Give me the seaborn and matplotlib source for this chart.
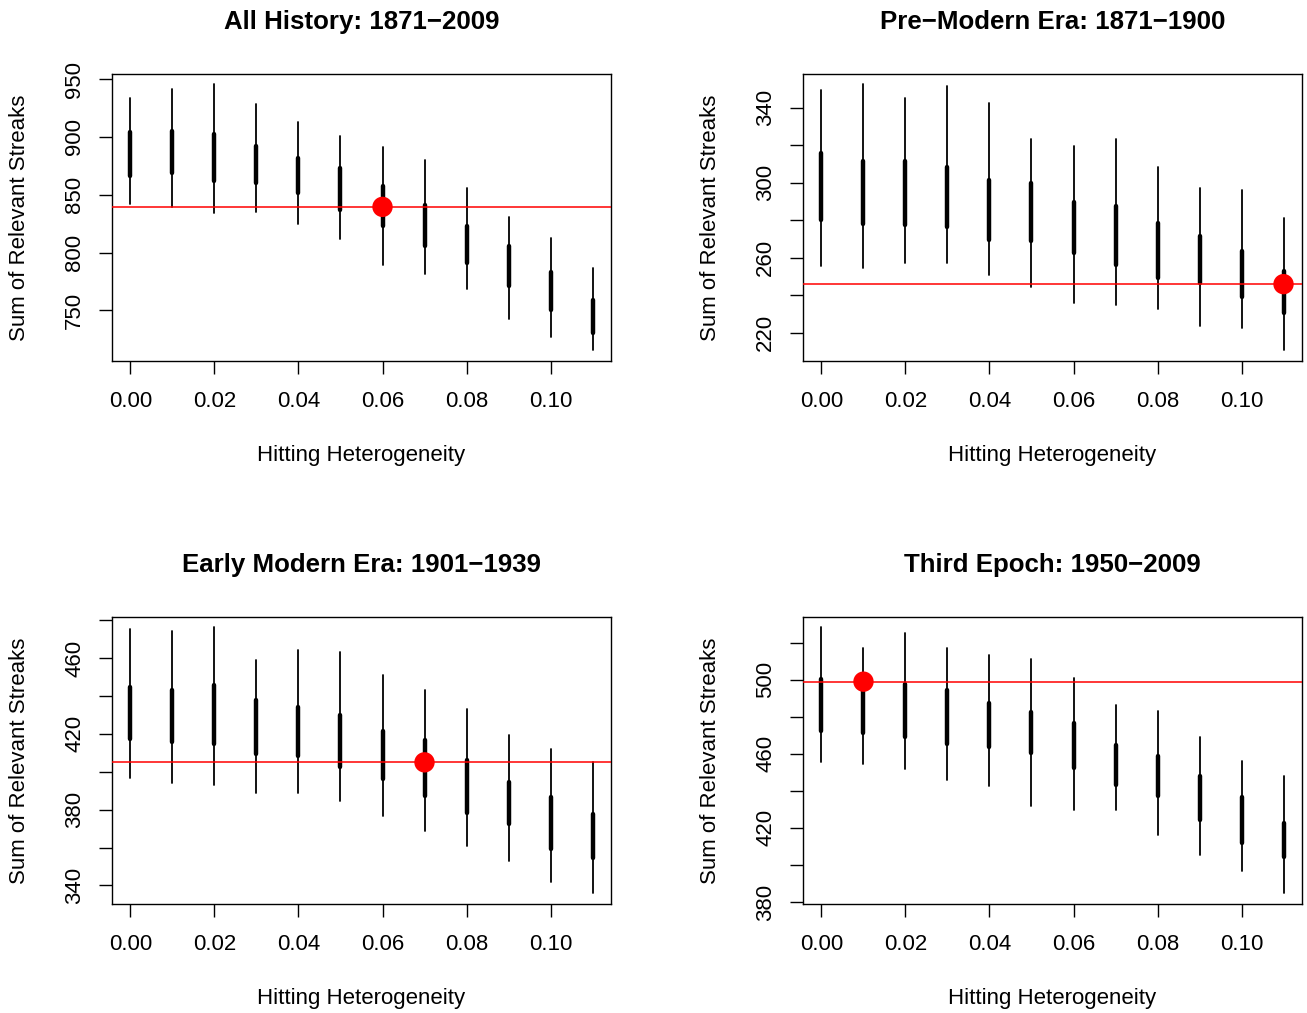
import numpy as np
import pandas as pd
import matplotlib
matplotlib.use("Agg")
import matplotlib.pyplot as plt
import seaborn as sns

# ---------------- data ----------------
heterogeneity = [0.00, 0.01, 0.02, 0.03, 0.04, 0.05, 0.06, 0.07, 0.08, 0.09, 0.10, 0.11]
x_ticks = [0.00, 0.02, 0.04, 0.06, 0.08, 0.10]
x_tick_labels = ["0.00", "0.02", "0.04", "0.06", "0.08", "0.10"]

titles = ["All History: 1871\u22122009", "Pre\u2212Modern Era: 1871\u22121900",
          "Early Modern Era: 1901\u22121939", "Third Epoch: 1950\u22122009"]

# panel 1: All History
p1_lo = [841.8, 839.8, 834.6, 834.9, 824.8, 811.9, 789.7, 781.7, 768.4, 742.8, 726.7, 715.5]
p1_q1 = [866.6, 868.6, 862.0, 859.9, 851.3, 837.2, 822.8, 805.8, 790.9, 770.7, 750.0, 730.5]
p1_q3 = [904.5, 905.4, 902.5, 892.2, 882.1, 873.5, 857.9, 841.2, 823.1, 806.1, 783.1, 759.2]
p1_hi = [933.3, 941.4, 945.4, 928.1, 912.6, 900.5, 891.6, 879.8, 855.6, 830.9, 812.5, 786.3]
p1_obs = 839.5
p1_best = 0.06
p1_yticks = [750, 800, 850, 900, 950]
p1_ylabels = ["750", "800", "850", "900", "950"]

# panel 2: Pre-Modern Era
p2_lo = [255.6, 254.7, 256.9, 256.9, 250.7, 244.6, 235.6, 234.7, 232.6, 223.7, 222.7, 210.6]
p2_q1 = [279.9, 278.0, 277.4, 276.4, 269.3, 268.9, 262.5, 256.2, 249.3, 246.4, 239.0, 230.5]
p2_q3 = [315.7, 311.8, 311.6, 308.5, 301.5, 299.6, 289.7, 287.5, 278.5, 271.6, 263.4, 252.8]
p2_hi = [349.2, 352.4, 345.3, 351.3, 342.3, 323.3, 319.3, 323.2, 308.1, 297.3, 296.2, 281.0]
p2_obs = 245.9
p2_best = 0.11
p2_yticks = [220, 240, 260, 280, 300, 320, 340]
p2_ylabels = ["220", "", "260", "", "300", "", "340"]

# panel 3: Early Modern Era
p3_lo = [396.8, 393.9, 392.9, 388.7, 388.8, 384.6, 376.7, 368.8, 360.7, 352.7, 341.8, 335.8]
p3_q1 = [417.5, 415.6, 414.5, 409.4, 408.5, 402.4, 396.2, 387.3, 378.3, 372.5, 359.3, 354.6]
p3_q3 = [444.7, 443.0, 445.8, 437.7, 434.0, 429.8, 421.5, 417.0, 406.1, 394.8, 386.7, 377.6]
p3_hi = [475.3, 474.2, 476.3, 459.3, 464.2, 463.2, 451.2, 443.3, 433.3, 419.2, 412.2, 405.0]
p3_obs = 405.0
p3_best = 0.07
p3_yticks = [340, 360, 380, 400, 420, 440, 460, 480]
p3_ylabels = ["340", "", "380", "", "420", "", "460", ""]

# panel 4: Third Epoch
p4_lo = [455.7, 454.6, 451.6, 445.6, 442.8, 431.7, 429.5, 429.5, 416.4, 405.6, 396.5, 384.7]
p4_q1 = [472.4, 471.1, 469.3, 465.2, 463.4, 460.2, 452.3, 443.3, 437.2, 424.3, 412.1, 404.2]
p4_q3 = [500.4, 500.0, 497.5, 494.4, 487.6, 482.4, 476.5, 464.5, 458.6, 447.8, 436.5, 422.7]
p4_hi = [528.2, 517.0, 524.9, 517.0, 513.1, 510.9, 501.1, 486.2, 483.0, 469.2, 456.1, 448.0]
p4_obs = 498.9
p4_best = 0.01
p4_yticks = [380, 400, 420, 440, 460, 480, 500, 520]
p4_ylabels = ["380", "", "420", "", "460", "", "500", ""]

panels = [
    (p1_lo, p1_q1, p1_q3, p1_hi, p1_obs, p1_best, p1_yticks, p1_ylabels),
    (p2_lo, p2_q1, p2_q3, p2_hi, p2_obs, p2_best, p2_yticks, p2_ylabels),
    (p3_lo, p3_q1, p3_q3, p3_hi, p3_obs, p3_best, p3_yticks, p3_ylabels),
    (p4_lo, p4_q1, p4_q3, p4_hi, p4_obs, p4_best, p4_yticks, p4_ylabels),
]

# ---------------- style ----------------
sns.set_style("white")
plt.rcParams["font.family"] = ["Liberation Sans", "DejaVu Sans"]
plt.rcParams["axes.edgecolor"] = "black"
plt.rcParams["axes.linewidth"] = 1.0
plt.rcParams["text.color"] = "black"
plt.rcParams["axes.labelcolor"] = "black"
plt.rcParams["axes.titlecolor"] = "black"
plt.rcParams["xtick.color"] = "black"
plt.rcParams["ytick.color"] = "black"
plt.rcParams["xtick.labelcolor"] = "black"
plt.rcParams["ytick.labelcolor"] = "black"

W, H = 1307, 1013
fig = plt.figure(figsize=(W / 100, H / 100), dpi=100)

ax_w = 499 / W
ax_h = 287.3 / H
lefts = [112 / W, 803 / W, 112 / W, 803 / W]
bottoms = [1 - 361 / H, 1 - 361 / H, 1 - 904 / H, 1 - 904 / H]

LABEL_FS = 16.0
TITLE_FS = 18.6


def segments(xs, lo, hi):
    n = len(xs)
    return pd.DataFrame({
        "x": np.repeat(xs, 2),
        "y": np.ravel(np.column_stack([lo, hi])),
        "unit": np.repeat(np.arange(n), 2),
    })


for i, (lo, q1, q3, hi, obs, best, yt, yl) in enumerate(panels):
    ax = fig.add_axes([lefts[i], bottoms[i], ax_w, ax_h])
    whisk = segments(heterogeneity, lo, hi)
    box = segments(heterogeneity, q1, q3)
    sns.lineplot(data=whisk, x="x", y="y", units="unit", estimator=None, sort=False,
                 color="black", linewidth=1.3, ax=ax, legend=False)
    sns.lineplot(data=box, x="x", y="y", units="unit", estimator=None, sort=False,
                 color="black", linewidth=3.2, solid_capstyle="round", ax=ax, legend=False)
    ax.axhline(obs, color="#ff0000", linewidth=1.1, zorder=4)
    sns.scatterplot(x=[best], y=[obs], s=215, color="#ff0000", edgecolor="none",
                    zorder=5, ax=ax, legend=False)

    # R-like 4% padding
    xmin, xmax = min(heterogeneity), max(heterogeneity)
    dx = (xmax - xmin) * 0.04
    ax.set_xlim(xmin - dx, xmax + dx)
    ymin, ymax = min(lo), max(hi)
    dy = (ymax - ymin) * 0.04
    ax.set_ylim(ymin - dy, ymax + dy)

    ax.set_xticks(x_ticks)
    ax.set_xticklabels(x_tick_labels)
    ax.set_yticks(yt)
    ax.set_yticklabels(yl)
    ax.tick_params(axis="both", direction="out", length=9.4, width=1.0, color="black",
                   labelcolor="black", labelsize=LABEL_FS, bottom=True, left=True)
    ax.tick_params(axis="x", pad=12)
    ax.tick_params(axis="y", pad=10, labelrotation=90)
    plt.setp(ax.get_yticklabels(), va="center", ha="right")

    for sp in ax.spines.values():
        sp.set_color("black")
        sp.set_linewidth(1.0)

    ax.set_xlabel("Hitting Heterogeneity", fontsize=LABEL_FS, va="center", color="black")
    ax.xaxis.set_label_coords(0.5, (361 - 455) / 287.3)
    ax.set_ylabel("Sum of Relevant Streaks", fontsize=LABEL_FS, va="center", color="black")
    ax.yaxis.set_label_coords((20 - 112) / 499, 0.5)
    ax.set_title(titles[i], fontsize=TITLE_FS, fontweight="bold", pad=32.5, color="black")

fig.savefig("out.png", dpi=100)
